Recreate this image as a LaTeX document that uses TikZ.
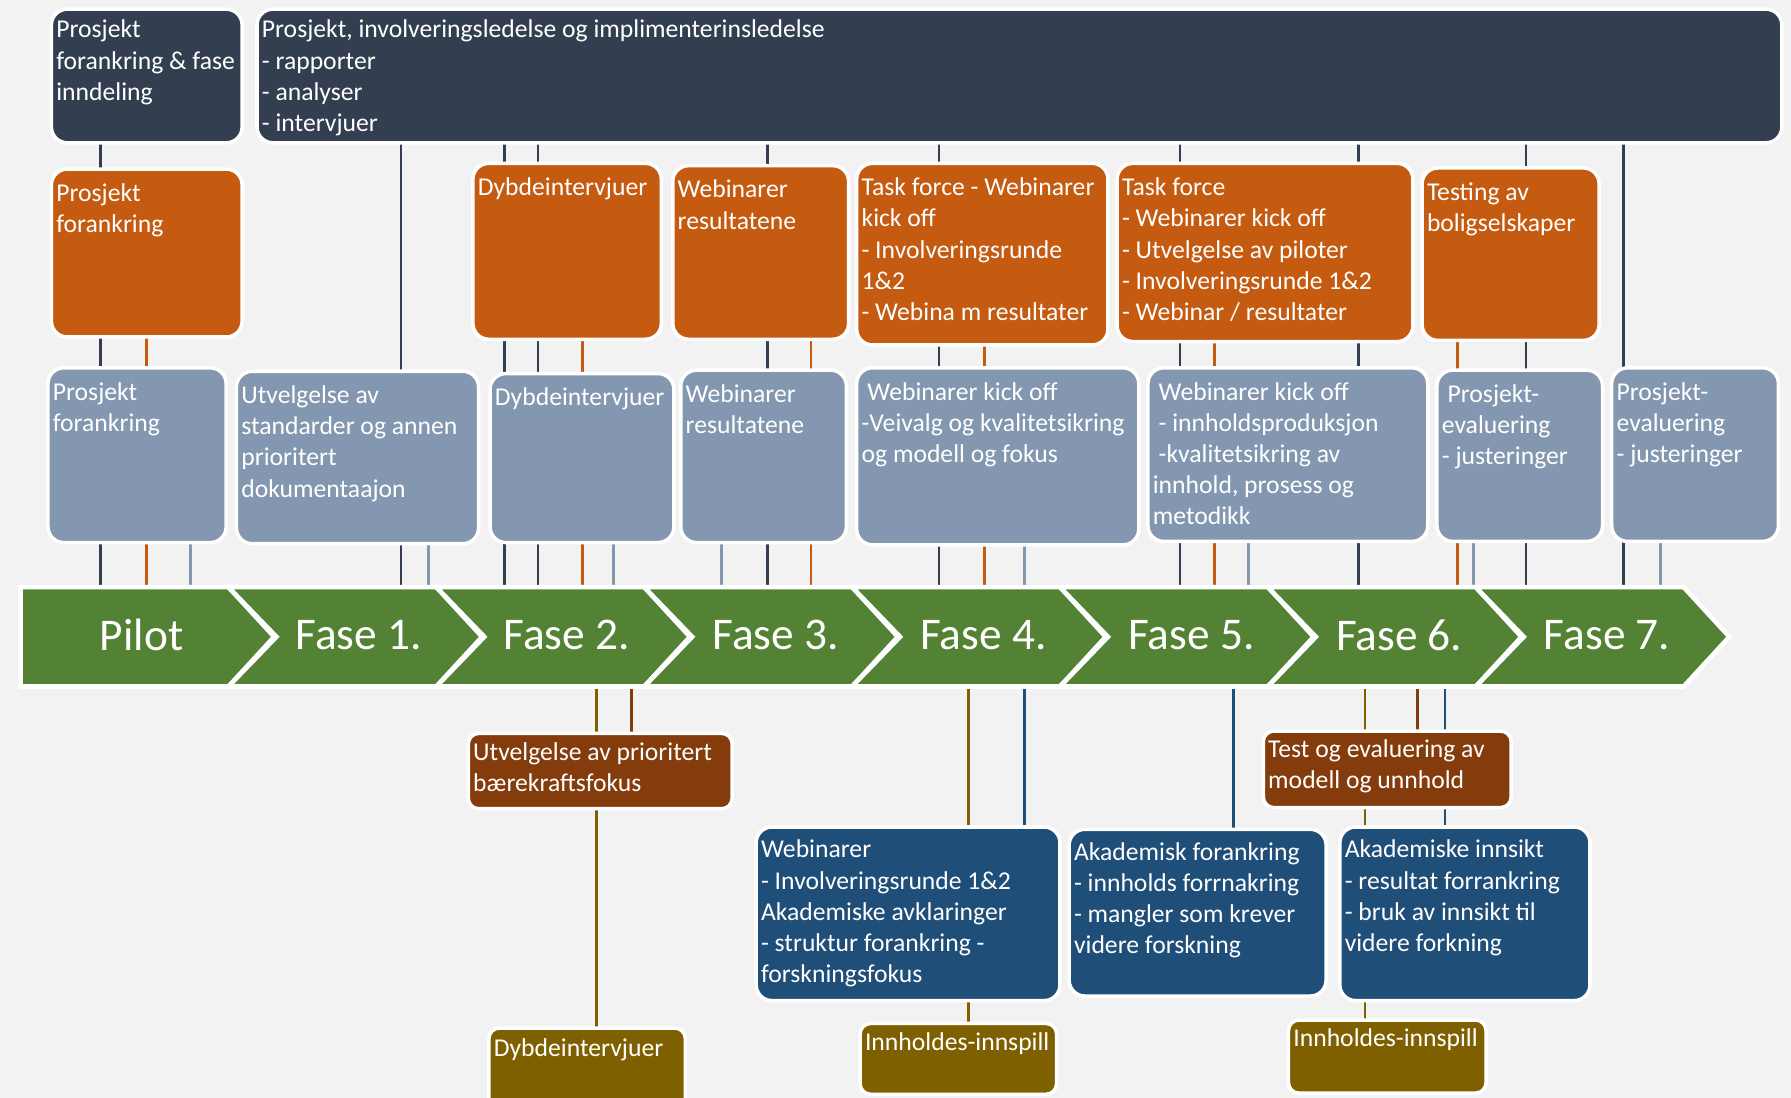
\documentclass[tikz,border=0pt]{standalone}
\usepackage{fontspec}
\setmainfont{Carlito}
\usetikzlibrary{positioning}
\definecolor{canvas}{HTML}{F2F2F2}
\definecolor{slate}{HTML}{333F50}
\definecolor{rust}{HTML}{C55A11}
\definecolor{steel}{HTML}{8497B0}
\definecolor{leaf}{HTML}{548235}
\definecolor{umber}{HTML}{843C0C}
\definecolor{ochre}{HTML}{7F6000}
\definecolor{navy}{HTML}{1F4E79}
\pgfdeclarelayer{background}
\pgfsetlayers{background,main}
\newlength{\pxu}
\setlength{\pxu}{0.11422mm}
\newcommand{\cardtext}[4][7.8pt]{\parbox[t][\dimexpr#3\pxu-2.8pt\relax][t]{\dimexpr#2\pxu-2.8pt\relax}{%
  \begin{tabular}[t]{@{}l@{}}\rule{0pt}{#1}#4\end{tabular}}}
\tikzset{
  card/.style={anchor=north west,rounded corners=4.5pt,draw=white,line width=1pt,
               text=white,inner sep=1.4pt,outer sep=0pt,
               font=\fontsize{7.3}{8.87}\selectfont},
  slatecard/.style={card,fill=slate},
  rustcard/.style={card,fill=rust},
  steelcard/.style={card,fill=steel},
  navycard/.style={card,fill=navy},
  umbercard/.style={card,fill=umber,rounded corners=3pt},
  ochrecard/.style={card,fill=ochre,rounded corners=3pt},
  chevron/.style={fill=leaf,draw=white,line width=1.3pt},
  phase/.style={text=white,font=\fontsize{12.9}{15}\selectfont},
  link/.style={line width=0.8pt}
}
\begin{document}
\begin{tikzpicture}[x=0.11422mm,y=-0.11422mm]
  \path[use as bounding box] (0,0) rectangle (1568,961);
  % ledelse
  \node[slatecard] (lead) at (45,8) {\cardtext[6.8pt]{167}{117}{Prosjekt\\forankring \& fase\\inndeling}};
  \node[slatecard] (mgmt) at (225,8) {\cardtext[6.8pt]{1335}{117}{Prosjekt, involveringsledelse og implimenterinsledelse\\- rapporter\\- analyser\\- intervjuer}};
  % oppgaver
  \node[rustcard] (o1) at (45,148) {\cardtext{167}{147}{Prosjekt\\forankring}};
  \node[rustcard] (o2) at (414,143) {\cardtext{165}{154}{Dybdeintervjuer}};
  \node[rustcard] (o3) at (589,145) {\cardtext{154}{152}{Webinarer\\resultatene}};
  \node[rustcard] (o4) at (750,143) {\cardtext{220}{159}{Task force - Webinarer\\kick off\\- Involveringsrunde\\1\&2\\- Webina m resultater}};
  \node[rustcard] (o5) at (978,143) {\cardtext{259}{156}{Task force\\- Webinarer kick off\\- Utvelgelse av piloter\\- Involveringsrunde 1\&2\\- Webinar / resultater}};
  \node[rustcard] (o6) at (1245,147) {\cardtext{155}{151}{Testing av\\boligselskaper}};
  % innhold
  \node[steelcard] (b1) at (42,322) {\cardtext{156}{153}{Prosjekt\\forankring}};
  \node[steelcard] (b2) at (207,325) {\cardtext{212}{151}{Utvelgelse av\\standarder og annen\\prioritert\\dokumentaajon}};
  \node[steelcard] (b3) at (429,327) {\cardtext{161}{148}{Dybdeintervjuer}};
  \node[steelcard] (b4) at (596,324) {\cardtext{145}{151}{Webinarer\\resultatene}};
  \node[steelcard] (b5) at (750,322) {\cardtext{247}{155}{~Webinarer kick off\\-Veivalg og kvalitetsikring\\og modell og fokus}};
  \node[steelcard] (b6) at (1005,322) {\cardtext{245}{152}{~Webinarer kick off\\~- innholdsproduksjon\\~-kvalitetsikring av\\innhold, prosess og\\metodikk}};
  \node[steelcard] (b7) at (1258,324) {\cardtext{145}{150}{~Prosjekt-\\evaluering\\- justeringer}};
  \node[steelcard] (b8) at (1411,322) {\cardtext{146}{152}{Prosjekt-\\evaluering\\- justeringer}};
  % faser
  \foreach \lbl/\cx [count=\i from 0] in {Pilot/124,Fase 1./314,Fase 2./496,Fase 3./679,
                                          Fase 4./861,Fase 5./1043,Fase 6./1225,Fase 7./1407}{
    \pgfmathsetmacro{\xa}{18+182*\i}
    \pgfmathsetmacro{\nt}{(\i>0)*42}
    \filldraw[chevron] (\xa,514) -- ++(182,0) -- ++(40,43.5) -- ++(-40,43.5)
      -- ++(-182,0) -- ++(\nt,-43.5) -- cycle;
    \node[phase] (ph\i) at (\cx,556) {\lbl};
  }
  \coordinate (bartop) at (0,514);
  \coordinate (barbot) at (0,601);
  % forankring
  \node[umbercard] (u1) at (410,642) {\cardtext[6.2pt]{231}{66}{Utvelgelse av prioritert\\bærekraftsfokus}};
  \node[ochrecard] (d1) at (428,900) {\cardtext[6.8pt]{172}{80}{Dybdeintervjuer}};
  \node[navycard] (w1) at (662,724) {\cardtext[7.4pt]{266}{152}{Webinarer\\- Involveringsrunde 1\&2\\Akademiske avklaringer\\- struktur forankring -\\forskningsfokus}};
  \node[ochrecard] (i1) at (753,896) {\cardtext[6.2pt]{172}{62}{Innholdes-innspill}};
  \node[navycard] (a1) at (936,726) {\cardtext[7.4pt]{225}{146}{Akademisk forankring\\- innholds forrnakring\\- mangler som krever\\videre forskning}};
  \node[umbercard] (t1) at (1106,640) {\cardtext[6.2pt]{217}{67}{Test og evaluering av\\modell og unnhold}};
  \node[navycard] (a2) at (1173,724) {\cardtext[7.4pt]{219}{152}{Akademiske innsikt\\- resultat forrankring\\- bruk av innsikt til\\videre forkning}};
  \node[ochrecard] (i2) at (1128,893) {\cardtext[6.2pt]{173}{64}{Innholdes-innspill}};
  % linjer bak boksene
  \begin{pgfonlayer}{background}
    \fill[canvas] (0,0) rectangle (1568,961);
    \foreach \x/\src in {88/lead,351/mgmt,442/mgmt,471/mgmt,672/mgmt,822/mgmt,
                         1033/mgmt,1189/mgmt,1336/mgmt,1421/mgmt}
      \draw[link,slate] (\x,0 |- \src.south) -- (\x,0 |- bartop);
    \foreach \x/\src in {128/o1,510/o2,710/o3,862/o4,1063/o5,1276/o6}
      \draw[link,rust] (\x,0 |- \src.south) -- (\x,0 |- bartop);
    \foreach \x/\src in {167/b1,375/b2,537/b3,632/b4,897/b5,1093/b6,1290/b7,1454/b8}
      \draw[link,steel] (\x,0 |- \src.south) -- (\x,0 |- bartop);
    \foreach \x/\dst in {522/d1,848/i1,1195/i2}
      \draw[link,ochre] (\x,0 |- barbot) -- (\x,0 |- \dst.north);
    \foreach \x/\dst in {553/u1,1241/t1}
      \draw[link,umber] (\x,0 |- barbot) -- (\x,0 |- \dst.north);
    \foreach \x/\dst in {897/w1,1080/a1,1265/a2}
      \draw[link,navy] (\x,0 |- barbot) -- (\x,0 |- \dst.north);
  \end{pgfonlayer}
\end{tikzpicture}
\end{document}
